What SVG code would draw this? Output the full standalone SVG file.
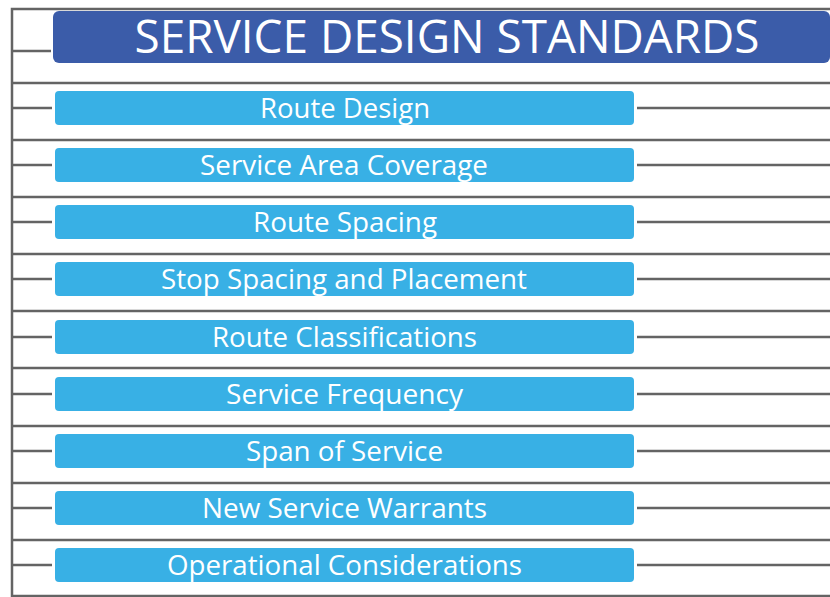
<svg xmlns="http://www.w3.org/2000/svg" width="830" height="597" viewBox="0 0 830 597">
<style>
.ln{stroke:#646464;stroke-width:2.5;fill:none}
.title{fill:#3b5ca9}
.box{fill:#38b0e5}
.tt{font-family:"Open Sans","Liberation Sans",sans-serif;fill:#ffffff;text-anchor:middle}
.t1{font-size:46px}
.t2{font-size:27.5px}
</style>
<rect width="830" height="597" fill="#ffffff"/>
<g id="connectors">
<path class="ln" d="M12,597V9H830"/>
<path class="ln" d="M12,51H51"/>
<path class="ln" d="M12,83H830M12,140H830M12,197H830M12,254H830M12,311H830M12,368H830M12,426H830M12,483H830M12,540H830M12,596H830"/>
<path class="ln" d="M12,108H52M637,108H830"/>
<path class="ln" d="M12,165H52M637,165H830"/>
<path class="ln" d="M12,222H52M637,222H830"/>
<path class="ln" d="M12,279H52M637,279H830"/>
<path class="ln" d="M12,337H52M637,337H830"/>
<path class="ln" d="M12,394H52M637,394H830"/>
<path class="ln" d="M12,451H52M637,451H830"/>
<path class="ln" d="M12,508H52M637,508H830"/>
<path class="ln" d="M12,565H52M637,565H830"/>
</g>
<g id="title">
<rect class="title" x="53" y="11" width="777" height="52" rx="6"/>
<text class="tt t1" x="447" y="53" textLength="625" lengthAdjust="spacingAndGlyphs">SERVICE DESIGN STANDARDS</text>
</g>
<g id="n1"><rect class="box" x="55" y="91" width="579" height="34" rx="4"/><text class="tt t2" x="345" y="118" textLength="170" lengthAdjust="spacingAndGlyphs">Route Design</text></g>
<g id="n2"><rect class="box" x="55" y="148" width="579" height="34" rx="4"/><text class="tt t2" x="344" y="175" textLength="288" lengthAdjust="spacingAndGlyphs">Service Area Coverage</text></g>
<g id="n3"><rect class="box" x="55" y="205" width="579" height="34" rx="4"/><text class="tt t2" x="345" y="232" textLength="184" lengthAdjust="spacingAndGlyphs">Route Spacing</text></g>
<g id="n4"><rect class="box" x="55" y="262" width="579" height="34" rx="4"/><text class="tt t2" x="344" y="289" textLength="366" lengthAdjust="spacingAndGlyphs">Stop Spacing and Placement</text></g>
<g id="n5"><rect class="box" x="55" y="320" width="579" height="34" rx="4"/><text class="tt t2" x="344.5" y="347" textLength="265" lengthAdjust="spacingAndGlyphs">Route Classifications</text></g>
<g id="n6"><rect class="box" x="55" y="377" width="579" height="34" rx="4"/><text class="tt t2" x="344.5" y="404" textLength="237" lengthAdjust="spacingAndGlyphs">Service Frequency</text></g>
<g id="n7"><rect class="box" x="55" y="434" width="579" height="34" rx="4"/><text class="tt t2" x="344.5" y="461" textLength="197" lengthAdjust="spacingAndGlyphs">Span of Service</text></g>
<g id="n8"><rect class="box" x="55" y="491" width="579" height="34" rx="4"/><text class="tt t2" x="344.5" y="518" textLength="285" lengthAdjust="spacingAndGlyphs">New Service Warrants</text></g>
<g id="n9"><rect class="box" x="55" y="548" width="579" height="34" rx="4"/><text class="tt t2" x="344.5" y="575" textLength="355" lengthAdjust="spacingAndGlyphs">Operational Considerations</text></g>
</svg>
